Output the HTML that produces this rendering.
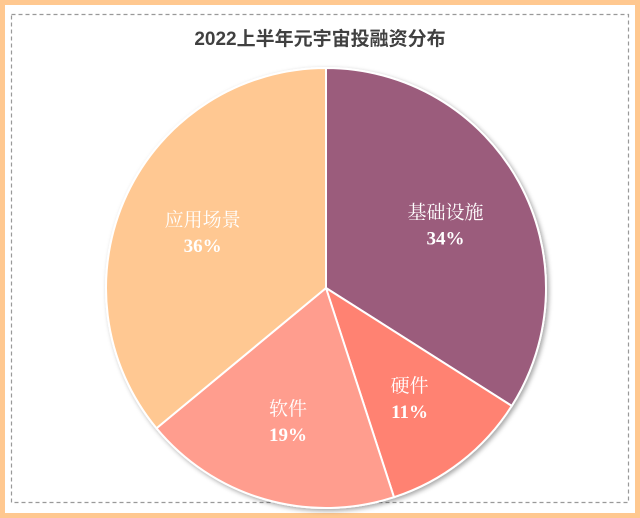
<!DOCTYPE html>
<html><head><meta charset="utf-8"><style>
html,body{margin:0;padding:0;background:#fff;}
#wrap{position:relative;width:640px;height:518px;overflow:hidden;}
svg{position:absolute;left:0;top:0;}
</style></head><body>
<div id="wrap">
<svg id="chart" width="640" height="518">
<defs>
<filter id="sh" x="-20%" y="-20%" width="140%" height="140%"><feDropShadow dx="2" dy="2" stdDeviation="2.5" flood-color="#000" flood-opacity="0.35"/></filter>
</defs>
<rect x="2.5" y="2.5" width="635" height="513" fill="#fff" stroke="#FFC890" stroke-width="5"/>
<rect x="11.5" y="14.5" width="617" height="488" fill="none" stroke="#999" stroke-width="1.2" stroke-dasharray="4,3"/>
<text x="320" y="45" text-anchor="middle" font-family="Liberation Sans, Noto Sans CJK SC, sans-serif" font-size="19" font-weight="bold" fill="#404040">2022上半年元宇宙投融资分布</text>
<g id="slices" filter="url(#sh)"></g>
<g id="labels"></g>
</svg>
</div>
<script>
const categories = ["基础设施","硬件","软件","应用场景"];
const values = [34, 11, 19, 36];
const colors = ["#9B5B7B","#FF8272","#FF9D8E","#FFC892"];
const cx=326, cy=288, r=220;
const ns="http://www.w3.org/2000/svg";
const total = values.reduce((a,b)=>a+b,0);
const gS=document.getElementById('slices'), gL=document.getElementById('labels');
let acc=0;
function pt(a,rr){return [cx+rr*Math.sin(a), cy-rr*Math.cos(a)];}
values.forEach((v,i)=>{
  const a0=acc/total*2*Math.PI; acc+=v; const a1=acc/total*2*Math.PI;
  const p0=pt(a0,r), p1=pt(a1,r);
  const large=(a1-a0)>Math.PI?1:0;
  const path=document.createElementNS(ns,'path');
  path.setAttribute('d',`M${cx},${cy} L${p0[0]},${p0[1]} A${r},${r} 0 ${large} 1 ${p1[0]},${p1[1]} Z`);
  path.setAttribute('fill',colors[i]);
  path.setAttribute('stroke','#fff');
  path.setAttribute('stroke-width','2');
  
  
  gS.appendChild(path);
  const am=(a0+a1)/2, lp=pt(am,r*0.62);
  const t1=document.createElementNS(ns,'text');
  t1.setAttribute('x',lp[0]); t1.setAttribute('y',lp[1]-4);
  t1.setAttribute('text-anchor','middle');
  t1.setAttribute('font-family','Liberation Serif, Noto Serif CJK SC, serif');
  t1.setAttribute('font-size','19'); t1.setAttribute('fill','#fff');
  t1.textContent=categories[i];
  
  
  gL.appendChild(t1);
  const t2=document.createElementNS(ns,'text');
  t2.setAttribute('x',lp[0]); t2.setAttribute('y',lp[1]+22);
  t2.setAttribute('text-anchor','middle');
  t2.setAttribute('font-family','Liberation Serif, serif');
  t2.setAttribute('font-size','19'); t2.setAttribute('font-weight','bold'); t2.setAttribute('fill','#fff');
  t2.textContent=v+'%';
  
  
  gL.appendChild(t2);
});
</script>
</body></html>
